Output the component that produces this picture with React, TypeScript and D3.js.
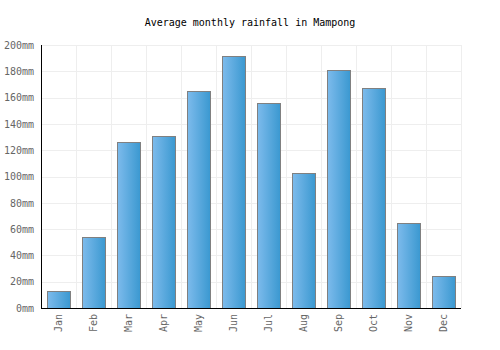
import { useRef, useEffect } from "react";
import * as d3 from "d3";

const months = ["Jan", "Feb", "Mar", "Apr", "May", "Jun", "Jul", "Aug", "Sep", "Oct", "Nov", "Dec"];
const rainfall = [13, 54, 126, 131, 165, 192, 156, 103, 181, 167, 65, 24];
const yTicks = [0, 20, 40, 60, 80, 100, 120, 140, 160, 180, 200];

const W = 500;
const H = 350;
const margin = { top: 45, right: 39, bottom: 42, left: 41 };
const FONT = "'DejaVu Sans Mono', monospace";

export default function App() {
  const svgRef = useRef<SVGSVGElement>(null);

  useEffect(() => {
    const svg = d3.select(svgRef.current);
    svg.selectAll("*").remove();

    const innerW = W - margin.left - margin.right;
    const innerH = H - margin.top - margin.bottom;

    const defs = svg.append("defs");
    const grad = defs.append("linearGradient").attr("id", "barGrad")
      .attr("x1", "0%").attr("x2", "100%").attr("y1", "0%").attr("y2", "0%");
    grad.append("stop").attr("offset", "0%").attr("stop-color", "#7dbbec");
    grad.append("stop").attr("offset", "100%").attr("stop-color", "#3a98d0");

    // title
    svg.append("text")
      .attr("x", W / 2)
      .attr("y", 26)
      .attr("text-anchor", "middle")
      .style("font-family", FONT)
      .style("font-size", "10px")
      .attr("fill", "#000")
      .text("Average monthly rainfall in Mampong");

    const g = svg.append("g").attr("transform", `translate(${margin.left},${margin.top})`);

    const x = d3.scaleBand().domain(months).range([0, innerW]).paddingInner(0.34).paddingOuter(0.17);
    const y = d3.scaleLinear().domain([0, 200]).range([innerH, 0]);

    // grid
    const bandStep = innerW / months.length;
    g.append("g").selectAll("line.v")
      .data(d3.range(months.length + 1))
      .join("line")
      .attr("x1", i => Math.round(i * bandStep) + 0.5)
      .attr("x2", i => Math.round(i * bandStep) + 0.5)
      .attr("y1", 0)
      .attr("y2", innerH)
      .attr("stroke", "#eeeeee");
    g.append("g").selectAll("line.h")
      .data(yTicks)
      .join("line")
      .attr("x1", 0)
      .attr("x2", innerW)
      .attr("y1", d => Math.round(y(d)) + 0.5)
      .attr("y2", d => Math.round(y(d)) + 0.5)
      .attr("stroke", "#eeeeee");

    // bars
    g.append("g").selectAll("rect")
      .data(rainfall)
      .join("rect")
      .attr("x", (_, i) => Math.round(x(months[i])!) + 0.5)
      .attr("y", d => Math.round(y(d)) + 0.5)
      .attr("width", Math.round(x.bandwidth()))
      .attr("height", d => Math.round(innerH - y(d)))
      .attr("fill", "url(#barGrad)")
      .attr("stroke", "#808080")
      .attr("stroke-width", 1);

    // y axis
    const yAxis = g.append("g")
      .call(d3.axisLeft(y).tickValues(yTicks).tickSize(0).tickPadding(7).tickFormat(d => `${d}mm`));
    yAxis.select(".domain").attr("stroke", "#000").attr("d", `M0.5,0V${innerH}`);
    yAxis.selectAll("text")
      .style("font-family", FONT)
      .style("font-size", "10px")
      .attr("fill", "#666");

    // x axis
    const xAxis = g.append("g")
      .attr("transform", `translate(0,${innerH})`)
      .call(d3.axisBottom(x).tickSize(0));
    xAxis.select(".domain").attr("stroke", "#000").attr("d", `M0,0.5H${innerW}`);
    xAxis.selectAll("text")
      .style("font-family", FONT)
      .style("font-size", "10px")
      .attr("fill", "#666")
      .attr("text-anchor", "end")
      .attr("dy", "0.35em")
      .attr("transform", "translate(0,6) rotate(-90)")
      .attr("x", 0)
      .attr("y", 0);
  }, []);

  return (
    <svg
      ref={svgRef}
      width={W}
      height={H}
      style={{ position: "absolute", left: 0, top: 0, background: "#fff" }}
    />
  );
}
